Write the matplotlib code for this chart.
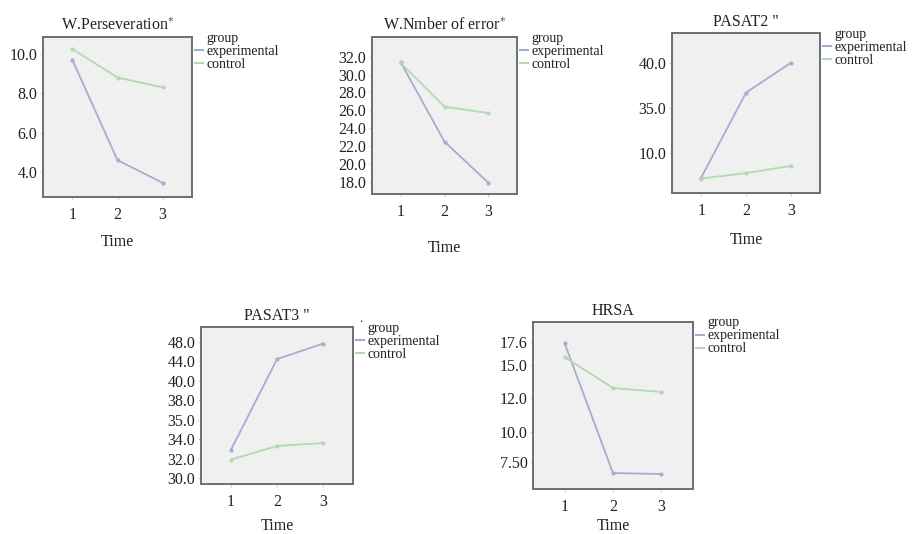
import matplotlib
matplotlib.use("Agg")
import matplotlib.pyplot as plt
from matplotlib.lines import Line2D

plt.rcParams['font.family'] = ['Liberation Serif', 'DejaVu Serif']
plt.rcParams['mathtext.fontset'] = 'stix'

EXP_COLOR = '#a9abd0'
CTL_COLOR = '#b3d9b3'
TXT = '#222222'

time = [1, 2, 3]

# panel titles
titles = [r"W.Perseveration$^{*}$", r"W.Nmber of error$^{*}$", 'PASAT2 "', 'PASAT3 "', "HRSA"]

# y tick labels as printed on each panel and where they sit on the panel's axis
ytick_labels = [
    ["4.0", "6.0", "8.0", "10.0"],
    ["18.0", "20.0", "22.0", "24.0", "26.0", "28.0", "30.0", "32.0"],
    ["10.0", "35.0", "40.0"],
    ["30.0", "32.0", "34.0", "35.0", "38.0", "40.0", "44.0", "48.0"],
    ["7.50", "10.0", "12.0", "15.0", "17.6"],
]
ytick_pos = [
    [4, 6, 8, 10],
    [18, 20, 22, 24, 26, 28, 30, 32],
    [30, 35, 40],
    [30, 32, 34, 36, 38, 40, 42, 44],
    [5.6, 8.6, 12.0, 15.3, 17.6],
]

# group means (read on each panel's axis)
experimental = [
    [9.7, 4.6, 3.45],
    [31.4, 22.5, 17.9],
    [27.3, 36.7, 40.0],
    [32.9, 42.2, 43.8],
    [17.5, 4.5, 4.4],
]
control = [
    [10.25, 8.8, 8.3],
    [31.3, 26.4, 25.7],
    [27.2, 27.8, 28.6],
    [31.9, 33.3, 33.6],
    [16.1, 13.0, 12.6],
]

ylims = [(2.73, 10.86), (16.65, 34.2), (25.6, 43.3), (29.4, 45.5), (2.9, 19.6)]

# axes boxes in pixels: left, top, right, bottom
boxes = [(43, 37, 192, 197), (372, 37, 517, 194), (672, 33, 820, 193),
         (201, 327, 353, 484), (533, 322, 693, 489)]
time_label_y = [242, 248, 240, 526, 526]

W, H = 917, 534
fig = plt.figure(figsize=(W / 100, H / 100), dpi=100)

for i in range(5):
    l, t, r, b = boxes[i]
    ax = fig.add_axes([l / W, 1 - b / H, (r - l) / W, (b - t) / H])
    ax.set_facecolor('#f0f0f0')
    for s in ax.spines.values():
        s.set_color('#6e6e6e')
        s.set_linewidth(1.4)

    ax.plot(time, experimental[i], color=EXP_COLOR, lw=1.3, marker='o', ms=2)
    ax.plot(time, control[i], color=CTL_COLOR, lw=1.3, marker='o', ms=2)

    ax.set_xlim(0.35, 3.65)
    ax.set_ylim(*ylims[i])
    ax.set_xticks(time)
    ax.set_xticklabels(["1", "2", "3"])
    ax.set_yticks(ytick_pos[i])
    ax.set_yticklabels(ytick_labels[i])
    ax.tick_params(labelsize=11.5, length=2, color='#d0d0d0', pad=2, colors=TXT)
    ax.tick_params(axis='x', pad=5)

    ax.set_title(titles[i], fontsize=11.5, pad=5, color=TXT)
    ax.set_xlabel("Time", fontsize=11.5, color=TXT)
    ax.xaxis.set_label_coords(0.5, (b - time_label_y[i]) / (b - t))
    ax.xaxis.label.set_verticalalignment('center')

    handles = [Line2D([], [], color='none'),
               Line2D([], [], color=EXP_COLOR, lw=1.5),
               Line2D([], [], color=CTL_COLOR, lw=1.5)]
    leg = ax.legend(handles, ["group", "experimental", "control"],
                    loc='upper left', bbox_to_anchor=(1.0, 1.05), frameon=False,
                    handlelength=0.6, handletextpad=0.25, labelspacing=0.0,
                    borderaxespad=0.2, borderpad=0, fontsize=10)
    for txt in leg.get_texts():
        txt.set_color(TXT)

    if i == 3:
        ax.text(1.04, 1.03, ".", transform=ax.transAxes, fontsize=9, color=TXT)

fig.savefig("out.png", dpi=100, facecolor='white')
